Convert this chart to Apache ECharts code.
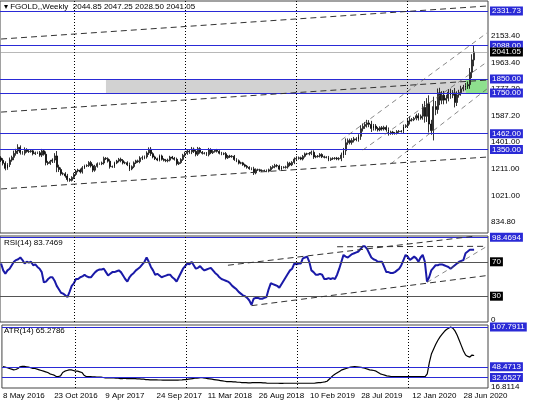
<!DOCTYPE html>
<html><head><meta charset="utf-8">
<script src="https://cdn.jsdelivr.net/npm/echarts@6/dist/echarts.min.js"></script>
<style>html,body{margin:0;background:#fff}#c{width:536px;height:401px}</style>
</head><body><div id="c"></div>
<script>
// weekly closes, 8 May 2016 .. 2 Aug 2020
const closes = [
  1273,1252,1216,1243,1275,1294,1322,1339,1365,1328,1323,1350,1336,1335,1340,1320,1326,1327,1310,1340,1316,1257,1251,1266,1275,1304,1224,1208,1178,1177,1162,1137,1131,1152,
  1173,1197,1204,1191,1220,1234,1236,1257,1234,1203,1230,1249,1249,1254,1287,1284,1267,1228,1228,1254,1268,1280,1271,1255,1256,1242,1212,1228,1255,1269,1264,1290,1291,1297,1325,1351,1320,1297,1284,1275,1304,1280,1273,1270,1274,1296,1288,1280,1248,1257,1279,1309,
  1322,1338,1333,1352,1337,1316,1356,1330,1323,1323,1313,1349,1327,1336,1345,1337,1323,1319,1320,1291,1303,1299,1302,1278,1270,1253,1255,1241,1231,1223,1214,1212,1184,1206,1206,1199,1201,1201,1196,1206,1222,1229,1236,1233,1210,1223,1223,1226,1252,1241,1258,1282,
  1287,1291,1282,1301,1319,1318,1322,1330,1297,1300,1303,1314,1298,1295,1294,1277,1285,1286,1288,1283,1285,1310,1341,1398,1413,1400,1414,1425,1420,1443,1497,1514,1527,1538,1528,1499,1516,1498,1489,1504,1495,1507,1490,1464,1473,1463,1466,1477,1479,1478,1512,1519,
  1552,1560,1561,1571,1589,1573,1586,1648,1585,1674,1530,1484,1654,1633,1752,1699,1735,1700,1713,1756,1734,1751,1683,1737,1753,1780,1790,1801,1810,1897,1985,2041
];
const firstOpen = 1290;
// wick length beyond the body
const wicks = [
  12,15,14,10,18,12,20,16,22,14,10,15,9,10,8,12,9,8,12,14,10,20,12,10,12,20,35,18,14,10,12,15,10,8,
  12,10,9,11,12,8,9,10,12,14,11,9,8,10,12,9,10,14,8,9,8,10,12,11,9,10,15,9,10,8,9,12,15,10,12,14,16,10,9,8,10,9,8,10,11,9,8,9,12,8,9,10,
  12,10,14,16,12,15,12,10,9,8,9,12,10,9,8,9,8,10,9,12,8,9,8,9,10,9,8,7,8,9,8,9,15,10,8,7,8,6,7,8,10,9,12,10,9,10,8,9,12,10,9,12,
  15,9,8,10,9,8,10,12,14,9,8,10,9,8,7,10,8,9,8,9,10,18,20,30,15,14,16,14,12,15,25,20,18,22,20,25,15,14,12,10,12,11,14,16,10,9,8,10,9,8,14,10,
  15,25,12,10,14,18,12,25,45,40,60,30,70,40,30,35,28,30,25,22,25,20,35,25,20,22,18,20,22,30,40,45
];
const rsi = [
  68,60,56,60,62,66,70,72,73,75, 72,68,70,69,70,66,67,64,62,58, 46,47,50,52,52,48,42,38,34,33,
  31,29,35,42,45,50,50,52,53,55, 53,52,52,55,58,60,61,61,62,58, 54,56,58,58,59,60,58,54,50,47,
  52,55,57,60,62,64,67,70,75,70, 64,60,55,56,54,52,53,54,55,55, 52,50,47,52,57,62,65,68,67,70,
  66,62,63,65,62,60,61,62,63,60, 57,55,52,50,49,48,47,45,42,40, 38,35,33,31,30,28,25,20,27,28,
  28,27,27,28,29,38,45,44,43,42, 40,44,48,52,56,60,62,68,67,68, 68,74,75,76,70,60,58,55,55,56,
  55,50,50,51,50,51,50,55,62,70, 78,76,75,77,79,80,81,82,85,88, 88,85,80,75,73,72,70,70,70,64,
  58,58,57,57,58,60,62,66,72,78, 76,72,74,76,74,70,75,78,70,47, 52,60,63,66,66,67,67,66,65,64,
  62,64,66,68,70,71,72,80,82,84, 84,84
];
const atr = [
  48.7,48,47,46,45,44,44.5,46,48.5,49, 49,48.5,48,47,46,46,45,44,43,42, 41,40,38,37,36,34,34,35,40,42,
  43,44,44,43,42,42,41,40,36,34, 34,33.8,33.5,33.5,33,33,33,32.5,32,32, 32,32,32,31.5,31.5,31,31,31.5,31,31,
  31,31,31,30.5,30.5,30,30,29.5,29.5,29, 29,29,29,28.8,28.8,28.5,28.5,28.5,28.5,28.5, 28.5,28.5,28.5,28.8,29,29.5,29.5,30,30.5,31,
  31.5,31.5,32,32.5,32,31.5,31,30.5,30,29.5, 29,28.5,28,27.5,27,26.5,26.3,26.3,26,26, 25.5,25.5,25,25,25,24.5,24.5,25,25,25,
  25,25,24.5,24.5,24,24,24,24,24,24, 23.9,23.9,24,24,24,24,24,24,24,24, 24,24,24,24,24,24,24,24.5,25,25,
  25.5,26,27,30,33,36,38,40,42,44, 45,46,47,48,48.5,48.7,48.5,48,47.5,47, 46,45,44,43.5,43,42,40,38,37,36,
  35,34.5,34,34,33.8,33.8,33.8,33.8,33.8,33.8, 33.8,33.8,33.8,33.8,33.8,33.8,33.8,34,34,38, 55,68,75,82,88,93,97,101,104,106,
  107.8,106,102,96,88,80,72,66,64,63, 66,65.3
];
const priceLevels = [2331.73, 2088.00, 1850.00, 1750.00, 1462.00, 1350.00];
const priceTicks = [2153.40, 1963.40, 1777.20, 1587.20, 1401.00, 1211.00, 1021.00, 834.80];
const atrLevels = [107.7911, 48.4713, 32.6527];
const lastPrice = 2041.05;
// trend lines: [startIndex, startValue, endIndex, endValue]
const priceTrends = [[0,2133,227,2367],[0,1615,227,1842],[0,1070,227,1296],
  [159,1417,227,2176],[169,1346,227,1970],[182,1247,227,1779]];
const rsiTrends = [[106,66,222,100],[157,87.5,227,88],[117,19,227,54],[199,46,227,88]];
const yearStarts = [34, 86, 138, 190];
const months = ['Jan','Feb','Mar','Apr','May','Jun','Jul','Aug','Sep','Oct','Nov','Dec'];

const N = 228;
const cats = [];
for (let i = 0; i < N; i++) {
  const d = new Date(Date.UTC(2016, 4, 8) + i * 7 * 864e5);
  cats.push(d.getUTCDate() + ' ' + months[d.getUTCMonth()] + ' ' + d.getUTCFullYear());
}
const ohlc = closes.map((c, i) => {
  const o = i ? closes[i - 1] : firstOpen;
  return [o, c, Math.min(o, c) - wicks[i], Math.max(o, c) + wicks[i]];
});

const BLUE = '#2a2ad6';
const FONT = 'Liberation Sans';
const boxLabel = (txt, bg) => ({show: true, position: 'end', distance: 2, formatter: txt,
  backgroundColor: bg, color: '#fff', fontSize: 8, fontFamily: FONT, padding: [0, 2], lineHeight: 9});
const plainLabel = txt => ({show: true, position: 'end', distance: 3, formatter: txt,
  color: '#000', fontSize: 8, fontFamily: FONT});
const hidden = {color: 'rgba(0,0,0,0)', width: 0};
const seg = (t, style) => [{coord: [cats[t[0]], t[1]], lineStyle: style}, {coord: [cats[t[2]], t[3]]}];
const dashed = {color: '#333', type: [6, 4], width: 1};
const thinDash = {color: '#555', type: [5, 4], width: 0.7};

const priceMarks = []
  .concat(priceTicks.map(v => ({yAxis: v, lineStyle: hidden, label: plainLabel(v.toFixed(2))})))
  .concat(priceLevels.map(v => ({yAxis: v, lineStyle: {color: BLUE, width: 1, type: 'solid'}, label: boxLabel(v.toFixed(2), BLUE)})))
  .concat([{yAxis: lastPrice, lineStyle: {color: '#999', width: 0.7, type: 'solid'}, label: boxLabel(lastPrice.toFixed(2), '#000')}])
  .concat(priceTrends.map((t, k) => seg(t, k < 3 ? dashed : thinDash)));

const yearLines = yearStarts.map(i => ({xAxis: cats[i], lineStyle: {color: '#000', type: [1, 2], width: 1}, label: {show: false}}));

const axisX = g => ({type: 'category', gridIndex: g, data: cats, boundaryGap: true,
  axisLine: {show: false}, axisTick: {show: false},
  axisLabel: g === 2 ? {show: true, interval: (i) => i % 24 === 0 && i < 222, align: 'left',
    fontSize: 8, fontFamily: FONT, color: '#000', margin: 4} : {show: false},
  splitLine: {show: false}});
const axisY = (g, min, max) => ({type: 'value', gridIndex: g, min, max, position: 'right',
  axisLine: {show: false}, axisTick: {show: false}, axisLabel: {show: false}, splitLine: {show: false}});

const chart = echarts.init(document.getElementById('c'), null, {renderer: 'canvas'});
chart.setOption({
  backgroundColor: '#fff',
  animation: false,
  grid: [
    {left: 0, top: 1, width: 488, height: 232, show: true, borderColor: '#444', borderWidth: 1},
    {left: 0, top: 236, width: 488, height: 86, show: true, borderColor: '#444', borderWidth: 1},
    {left: 0, top: 325, width: 488, height: 63, show: true, borderColor: '#444', borderWidth: 1}
  ],
  xAxis: [axisX(0), axisX(1), axisX(2)],
  yAxis: [axisY(0, 757.7, 2402.6), axisY(1, 0, 100), axisY(2, 16.9, 110.77)],
  graphic: [
    {type: 'text', left: 4, top: 3, style: {text: '▾ FGOLD,,Weekly  2044.85 2047.25 2028.50 2041.05', fontSize: 8, fontFamily: FONT, fill: '#000'}},
    {type: 'text', left: 4, top: 239, style: {text: 'RSI(14) 83.7469', fontSize: 8, fontFamily: FONT, fill: '#000'}},
    {type: 'text', left: 4, top: 327, style: {text: 'ATR(14) 65.2786', fontSize: 8, fontFamily: FONT, fill: '#000'}}
  ],
  series: [
    {type: 'candlestick', xAxisIndex: 0, yAxisIndex: 0, data: ohlc, barWidth: 1.4,
      itemStyle: {color: '#fff', color0: '#000', borderColor: '#000', borderColor0: '#000', borderWidth: 0.8},
      markLine: {silent: true, symbol: ['none', 'none'], data: priceMarks.concat(yearLines)},
      markArea: {silent: true, data: [
        [{coord: [cats[49], 1850], itemStyle: {color: '#d2d2d2'}}, {coord: [cats[217], 1750]}],
        [{coord: [cats[217], 1850], itemStyle: {color: '#8ee08e'}}, {coord: [cats[227], 1750]}]
      ]}},
    {type: 'line', xAxisIndex: 1, yAxisIndex: 1, data: rsi, showSymbol: false,
      lineStyle: {color: '#1a1aa8', width: 2},
      markLine: {silent: true, symbol: ['none', 'none'], data: [
        {yAxis: 3, lineStyle: hidden, label: plainLabel('0')},
        {yAxis: 98.4694, lineStyle: {color: BLUE, width: 1, type: 'solid'}, label: boxLabel('98.4694', BLUE)},
        {yAxis: 70, lineStyle: {color: '#555', width: 1, type: 'solid'}, label: boxLabel('70', '#000')},
        {yAxis: 30, lineStyle: {color: '#555', width: 1, type: 'solid'}, label: boxLabel('30', '#000')}
      ].concat(rsiTrends.map((t, k) => seg(t, k < 3 ? dashed : thinDash))).concat(yearLines)}},
    {type: 'line', xAxisIndex: 2, yAxisIndex: 2, data: atr, showSymbol: false,
      lineStyle: {color: '#000', width: 1.2},
      markLine: {silent: true, symbol: ['none', 'none'], data: [{yAxis: 18.5, lineStyle: hidden, label: plainLabel('16.8114')}]
        .concat(atrLevels.map(v => ({yAxis: v,
          lineStyle: {color: BLUE, width: 1, type: 'solid'}, label: boxLabel(v.toFixed(4), BLUE)})))
        .concat(yearLines)}}
  ]
});
</script>
</body></html>
